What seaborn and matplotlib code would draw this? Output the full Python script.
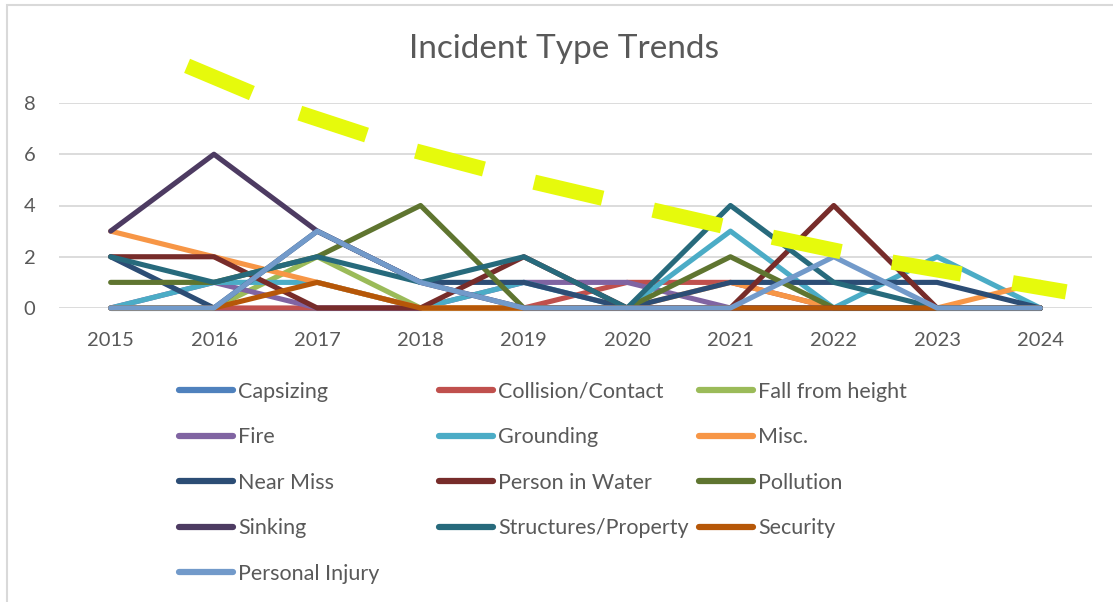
import numpy as np
import pandas as pd
import matplotlib
matplotlib.use("Agg")
import matplotlib.pyplot as plt
import matplotlib.patches as mpatches
import seaborn as sns

years = [2015, 2016, 2017, 2018, 2019, 2020, 2021, 2022, 2023, 2024]

capsizing = [0, 0, 0, 0, 0, 0, 0, 0, 0, 0]
collision = [0, 0, 0, 0, 0, 1, 1, 0, 0, 0]
fall_height = [0, 0, 2, 0, 0, 0, 0, 0, 0, 0]
fire = [0, 1, 0, 0, 1, 1, 0, 0, 0, 0]
grounding = [0, 1, 1, 0, 1, 0, 3, 0, 2, 0]
misc = [3, 2, 1, 0, 0, 0, 1, 0, 0, 1]
near_miss = [2, 0, 3, 1, 1, 0, 1, 1, 1, 0]
person_water = [2, 2, 0, 0, 2, 0, 0, 4, 0, 0]
pollution = [1, 1, 2, 4, 0, 0, 2, 0, 0, 0]
sinking = [3, 6, 3, 1, 0, 0, 0, 0, 0, 0]
structures = [2, 1, 2, 1, 2, 0, 4, 1, 0, 0]
security = [0, 0, 1, 0, 0, 0, 0, 0, 0, 0]
personal_injury = [0, 0, 3, 1, 0, 0, 0, 2, 0, 0]

series_names = ["Capsizing", "Collision/Contact", "Fall from height", "Fire",
                "Grounding", "Misc.", "Near Miss", "Person in Water", "Pollution",
                "Sinking", "Structures/Property", "Security", "Personal Injury"]
series_values = [capsizing, collision, fall_height, fire, grounding, misc,
                 near_miss, person_water, pollution, sinking, structures,
                 security, personal_injury]
colors = ["#4F81BD", "#C0504D", "#9BBB59", "#8064A2", "#4BACC6", "#F79646",
          "#2C4D75", "#772C2A", "#5F7530", "#4D3B62", "#276A7C", "#B65708",
          "#729ACA"]

# trend line (dashed yellow)
trend_x = [2015.74, 2016.82, 2017.93, 2019.08, 2020.22, 2021.36, 2022.52, 2023.68, 2024.25]
trend_y = [9.45, 7.62, 6.15, 4.93, 3.85, 2.80, 1.82, 1.02, 0.63]

rows = []
for name, vals in zip(series_names, series_values):
    for y, v in zip(years, vals):
        rows.append({"Year": y, "Type": name, "Count": v})
df = pd.DataFrame(rows)

sns.set_style("white")
plt.rcParams["font.family"] = ["Lato", "DejaVu Sans"]
txt = "#595959"

fig = plt.figure(figsize=(11.13, 6.02), dpi=100)
ax = fig.add_axes([59 / 1113, 1 - 308 / 602, (1092 - 59) / 1113, (308 - 103) / 602])

sns.lineplot(data=df, x="Year", y="Count", hue="Type",
             hue_order=series_names, palette=colors, linewidth=3.7,
             ax=ax, legend=False,
             solid_capstyle="round", solid_joinstyle="round")
for ln in ax.lines:
    ln.set_clip_on(False)

sns.lineplot(x=trend_x, y=trend_y, color="#E6FA0C", linewidth=11,
             ax=ax, legend=False, sort=False)
tl = ax.lines[-1]
tl.set_clip_on(False)
tl.set_dashes([4.6, 3.4])
tl.set_dash_capstyle("butt")

ax.set_xlim(2014.5, 2024.5)
ax.set_ylim(0, 8)
ax.set_xticks(years)
ax.set_yticks([0, 2, 4, 6, 8])
ax.yaxis.grid(True, color="#D9D9D9", linewidth=1.3)
ax.set_axisbelow(True)
for s in ax.spines.values():
    s.set_visible(False)
ax.tick_params(axis="both", length=0, labelsize=14.5, colors=txt)
ax.tick_params(axis="x", pad=17)
ax.tick_params(axis="y", pad=17)
ax.set_xlabel("")
ax.set_ylabel("")

fig.text(564 / 1113, 1 - 49 / 602, "Incident Type Trends", ha="center", va="center",
         fontsize=24, color=txt)

# chart border (partly outside the picture)
fig.patches.append(mpatches.Rectangle((7 / 1113, -0.2), 2, 1 - 5 / 602 + 0.2,
                                      transform=fig.transFigure, fill=False,
                                      edgecolor="#D9D9D9", linewidth=1.5))

# legend in three columns, rows filled left to right
handles = [plt.Line2D([], [], color=c, linewidth=4.5, solid_capstyle="round")
           for c in colors]
col_x = [179, 439, 699]
for ci in range(3):
    idx = list(range(ci, len(series_names), 3))
    fig.legend([handles[i] for i in idx], [series_names[i] for i in idx],
               loc="upper left", bbox_to_anchor=(col_x[ci] / 1113, 1 - 382 / 602),
               frameon=False, fontsize=15.5, labelcolor=txt, handlelength=2.5,
               handletextpad=0.25, labelspacing=1.18, borderpad=0,
               borderaxespad=0)

fig.savefig("out.png", dpi=100)
